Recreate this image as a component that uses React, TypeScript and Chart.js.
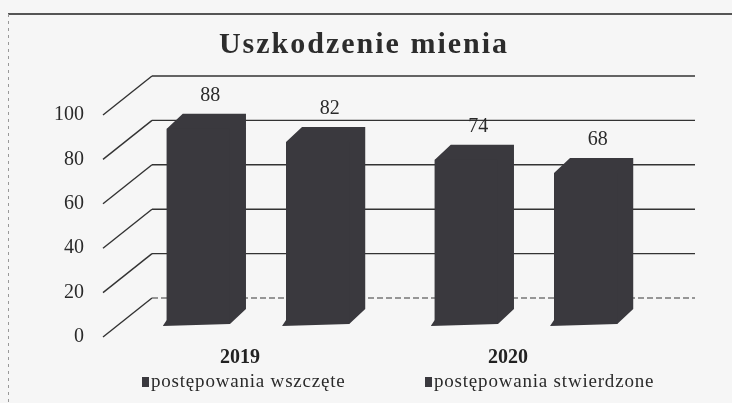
import React, { useEffect, useRef } from "react";
import { Chart, registerables } from "chart.js";

Chart.register(...registerables);

const title = "Uszkodzenie mienia";
const categories = ["2019", "2020"];
const seriesNames = ["postępowania wszczęte", "postępowania stwierdzone"];
const wszczete = [88, 74];
const stwierdzone = [82, 68];
const yTicks = [0, 20, 40, 60, 80, 100];

const BAR_COLOR = "#3a393e";
const FONT = "'Liberation Serif', 'Times New Roman', serif";

const depthPlugin = {
  id: "depth3d",
  beforeDraw(chart: any) {
    const { ctx, width, height } = chart;
    ctx.save();
    ctx.fillStyle = "#f6f6f6";
    ctx.fillRect(0, 0, width, height);
    // scan border
    ctx.strokeStyle = "#555";
    ctx.lineWidth = 2;
    ctx.beginPath();
    ctx.moveTo(8, 14);
    ctx.lineTo(width, 14);
    ctx.stroke();
    ctx.strokeStyle = "#999";
    ctx.lineWidth = 1;
    ctx.setLineDash([3, 4]);
    ctx.beginPath();
    ctx.moveTo(8.5, 14);
    ctx.lineTo(8.5, height);
    ctx.stroke();
    ctx.restore();
  },
  beforeDatasetsDraw(chart: any) {
    const { ctx } = chart;
    const y = chart.scales.y;
    ctx.save();
    yTicks.forEach((v) => {
      const front = y.getPixelForValue(v);
      const back = front - 26;
      const labelY = front + 13;
      ctx.strokeStyle = "#333";
      ctx.lineWidth = 1.4;
      ctx.setLineDash([]);
      ctx.beginPath();
      ctx.moveTo(103, labelY);
      ctx.lineTo(152, back);
      ctx.stroke();
      if (v === 0) {
        ctx.setLineDash([6, 3]);
        ctx.strokeStyle = "#777";
      }
      ctx.beginPath();
      ctx.moveTo(152, back);
      ctx.lineTo(695, back);
      ctx.stroke();
    });
    ctx.setLineDash([]);
    // bar depth (3D)
    const dx = 16;
    const dy = -15;
    chart.data.datasets.forEach((ds: any, i: number) => {
      const meta = chart.getDatasetMeta(i);
      meta.data.forEach((bar: any) => {
        const p = bar.getProps(["x", "y", "base", "width"], true);
        const L = p.x - p.width / 2;
        const R = p.x + p.width / 2;
        const T = p.y;
        const B = p.base;
        ctx.fillStyle = BAR_COLOR;
        ctx.beginPath();
        ctx.moveTo(L, T);
        ctx.lineTo(L + dx, T + dy);
        ctx.lineTo(R + dx, T + dy);
        ctx.lineTo(R + dx, B + dy);
        ctx.lineTo(R, B);
        ctx.lineTo(L - 4, B + 2);
        ctx.lineTo(L, B - 4);
        ctx.closePath();
        ctx.fill();
      });
    });
    ctx.restore();
  },
  afterDatasetsDraw(chart: any) {
    const { ctx } = chart;
    ctx.save();
    ctx.fillStyle = "#2a2a2a";
    ctx.font = `20px ${FONT}`;
    ctx.textAlign = "center";
    ctx.textBaseline = "middle";
    chart.data.datasets.forEach((ds: any, i: number) => {
      const meta = chart.getDatasetMeta(i);
      meta.data.forEach((bar: any, j: number) => {
        const p = bar.getProps(["x", "y"], true);
        ctx.fillText(String(ds.data[j]), p.x + 12, p.y - 33);
      });
    });
    ctx.restore();
  },
  afterDraw(chart: any) {
    const { ctx } = chart;
    ctx.save();
    // title
    ctx.fillStyle = "#2c2c2c";
    ctx.font = `bold 30px ${FONT}`;
    (ctx as any).letterSpacing = "2px";
    ctx.textAlign = "center";
    ctx.textBaseline = "alphabetic";
    ctx.fillText(title, 364, 53);
    // legend
    (ctx as any).letterSpacing = "0.8px";
    ctx.font = `19px ${FONT}`;
    ctx.textAlign = "left";
    ctx.textBaseline = "middle";
    const legendX = [142, 425];
    chart.data.datasets.forEach((ds: any, i: number) => {
      const x = legendX[i];
      ctx.fillStyle = BAR_COLOR;
      ctx.fillRect(x, 377, 7, 10);
      ctx.fillStyle = "#2a2a2a";
      ctx.fillText(ds.label, x + 9, 382);
    });
    ctx.restore();
  },
};

export default function App() {
  const ref = useRef<HTMLCanvasElement | null>(null);
  useEffect(() => {
    if (!ref.current) return;
    const chart = new Chart(ref.current, {
      type: "bar",
      data: {
        labels: categories,
        datasets: [
          {
            label: seriesNames[0],
            data: wszczete,
            backgroundColor: BAR_COLOR,
            categoryPercentage: 0.89,
            barPercentage: 0.53,
          },
          {
            label: seriesNames[1],
            data: stwierdzone,
            backgroundColor: BAR_COLOR,
            categoryPercentage: 0.89,
            barPercentage: 0.53,
          },
        ],
      },
      options: {
        animation: false,
        responsive: true,
        maintainAspectRatio: false,
        layout: { padding: { left: 14, right: 72, top: 102, bottom: 11 } },
        plugins: {
          legend: { display: false },
          title: { display: false },
          tooltip: { enabled: false },
        },
        scales: {
          x: {
            grid: { display: false, drawTicks: false },
            border: { display: false },
            ticks: {
              color: "#222",
              font: { family: FONT, size: 20, weight: "bold" },
              padding: 22,
              labelOffset: -18,
            },
          },
          y: {
            min: 0,
            max: 100,
            grid: { display: false, drawTicks: false },
            border: { display: false },
            ticks: {
              stepSize: 20,
              color: "#2a2a2a",
              font: { family: FONT, size: 20 },
              padding: 40,
              labelOffset: 13,
            },
          },
        },
      },
      plugins: [depthPlugin],
    });
    return () => chart.destroy();
  }, []);
  return (
    <div style={{ position: "fixed", left: 0, top: 0, width: 732, height: 403 }}>
      <canvas ref={ref} />
    </div>
  );
}
